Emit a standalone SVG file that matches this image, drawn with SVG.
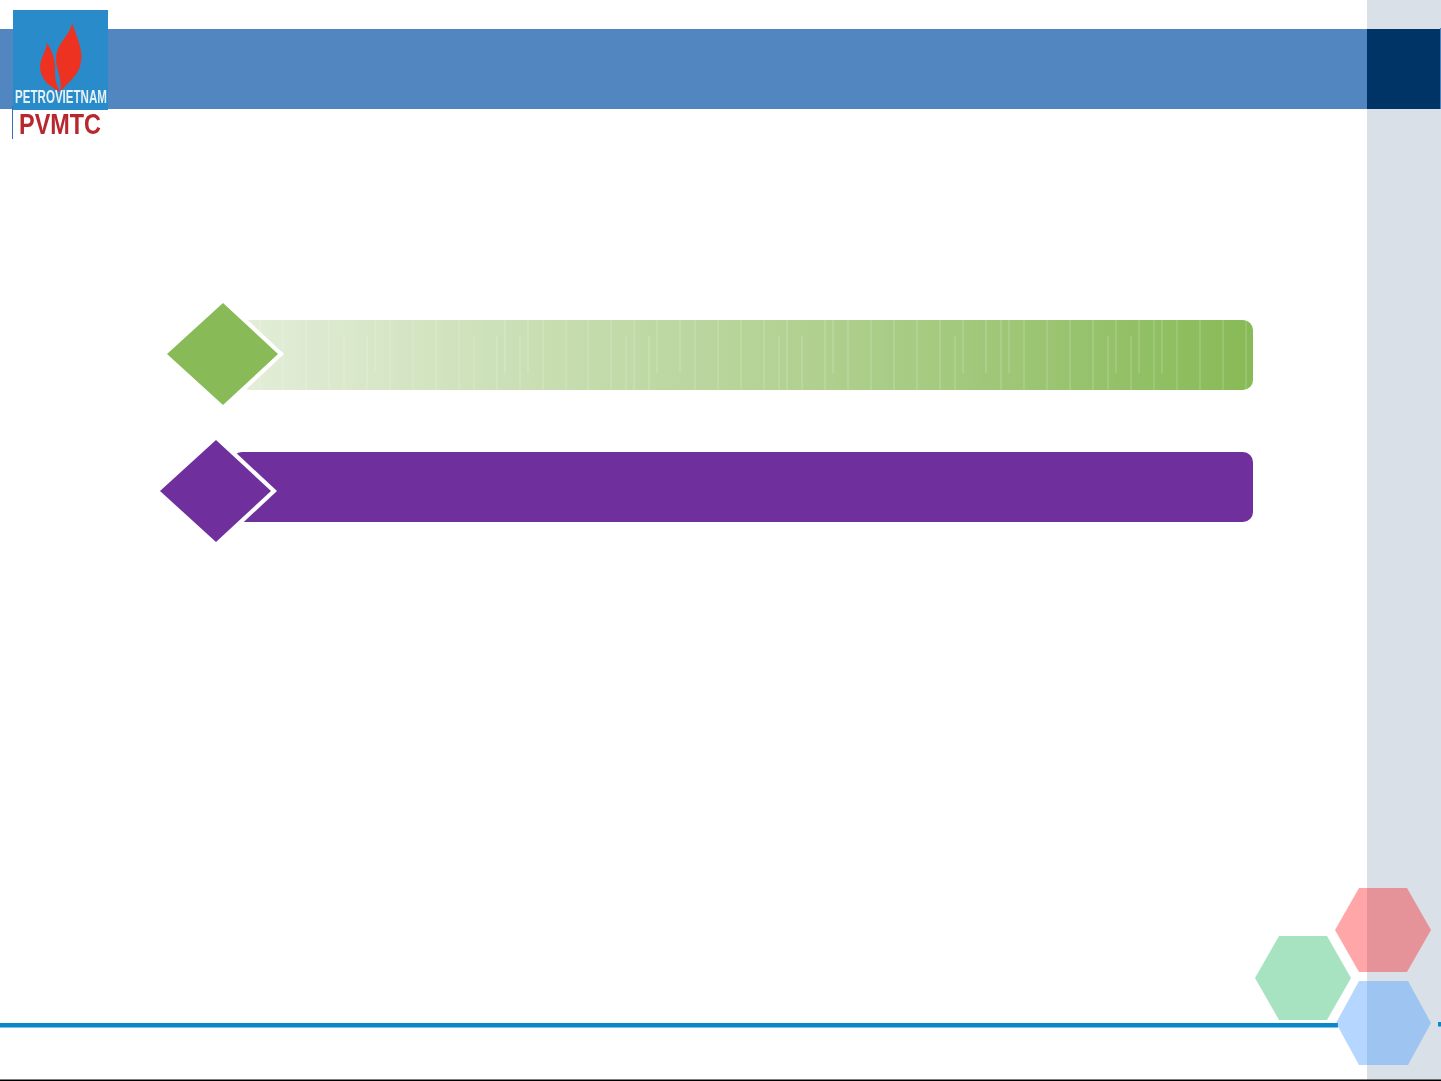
<svg xmlns="http://www.w3.org/2000/svg" width="1441" height="1081" viewBox="0 0 1441 1081">
<style>
.s{stroke:#fff;stroke-width:1;stroke-opacity:.26;fill:none}
.t{font-family:"Liberation Sans",Arial,sans-serif}
</style>
<defs>
<linearGradient id="g" gradientUnits="userSpaceOnUse" x1="245" y1="0" x2="1253" y2="0">
<stop offset="0" stop-color="#e3edd8"/><stop offset="1" stop-color="#88ba57"/>
</linearGradient>
<filter id="soft" x="-5%" y="-5%" width="110%" height="110%"><feGaussianBlur stdDeviation="0.55"/></filter>
</defs>
<rect width="1441" height="1081" fill="#fff"/>
<rect id="sidebar" x="1367" y="0" width="74" height="1081" fill="#d9e0e8"/>
<g id="header">
<rect x="0" y="29" width="1367" height="80" fill="#5286c1"/>
<rect x="1367" y="29" width="73" height="80" fill="#003366"/>
<rect x="1440" y="28" width="1" height="81" fill="#4f81bd"/>
</g>
<g id="logo">
<rect x="13" y="10" width="95" height="100" fill="#2a8bcb"/>
<g filter="url(#soft)">
<path d="M72 23C78 40 83 50 81 62C79 76 68 82 60 92C63 80 56 70 56 58C57 42 70 36 72 23Z" fill="#ee3322"/>
<path d="M47 43C53 52 56 62 55 72C55 82 58 87 60 92C50 87 41 80 40 68C40 58 46 52 47 43Z" fill="#ee3322"/>
<text class="t" x="15" y="103" font-size="18" font-weight="700" fill="#e4f2f6" textLength="92" lengthAdjust="spacingAndGlyphs">PETROVIETNAM</text>
<text class="t" x="19" y="134" font-size="29" font-weight="700" fill="#b8272e" textLength="82" lengthAdjust="spacingAndGlyphs">PVMTC</text>
</g>
<rect x="12" y="106" width="1" height="33" fill="#3c6cb4"/>
</g>
<g id="bar-green">
<rect x="240" y="320" width="1013" height="70" rx="10" fill="url(#g)"/>
<path class="s" d="M260 320V390M283 320V390M306 320V390M329 320V390M390 320V390M413 320V390M436 320V390M459 320V390M543 320V390M566 320V390M588 320V390M611 320V390M634 320V390M695 320V390M718 320V390M741 320V390M764 320V390M787 320V390M825 320V390M848 320V390M871 320V390M894 320V390M917 320V390M940 320V390M1001 320V390M1024 320V390M1047 320V390M1070 320V390M1093 320V390M1154 320V390M1177 320V390M1200 320V390M1223 320V390M1246 320V390"/>
<path class="s" d="M344 336V390M367 336V390M474 336V390M497 336V390M520 336V390M626 336V390M649 336V390M779 336V390M802 336V390M955 336V390M1108 336V390M1131 336V390"/>
<path class="s" d="M375 320V373M505 320V373M528 320V373M657 320V373M680 320V373M833 320V373M963 320V373M986 320V373M1009 320V373M1116 320V373M1139 320V373M1162 320V373"/>
</g>
<g id="diamond-green">
<path d="M223 297L284 354L223 411L162 354Z" fill="#fff"/>
<path d="M223 303L278 354L223 405L167 354Z" fill="#88ba57"/>
</g>
<g id="bar-purple">
<rect x="232" y="452" width="1021" height="70" rx="10" fill="#6f2f9d"/>
</g>
<g id="diamond-purple">
<path d="M216 434L277 491L216 548L155 491Z" fill="#fff"/>
<path d="M216 440L271 491L216 542L160 491Z" fill="#6f2f9d"/>
</g>
<g id="footer">
<rect x="0" y="1023" width="1338" height="4.5" fill="#0a86cb"/>
<rect x="1438" y="1022" width="3" height="4.5" fill="#0a86cb"/>
<rect x="0" y="1079.5" width="1441" height="1.5" fill="#000"/>
</g>
<g id="hex-red"><path d="M1359 888H1407L1431 930L1407 972H1359L1335 930Z" fill="#ff0006" fill-opacity=".35"/></g>
<g id="hex-green"><path d="M1279 936H1327L1351 978L1327 1020H1279L1255 978Z" fill="#a7e3c0"/></g>
<g id="hex-blue"><path d="M1359 981H1408L1431 1023L1408 1065H1359L1336 1023Z" fill="#469bff" fill-opacity=".4"/></g>
</svg>
